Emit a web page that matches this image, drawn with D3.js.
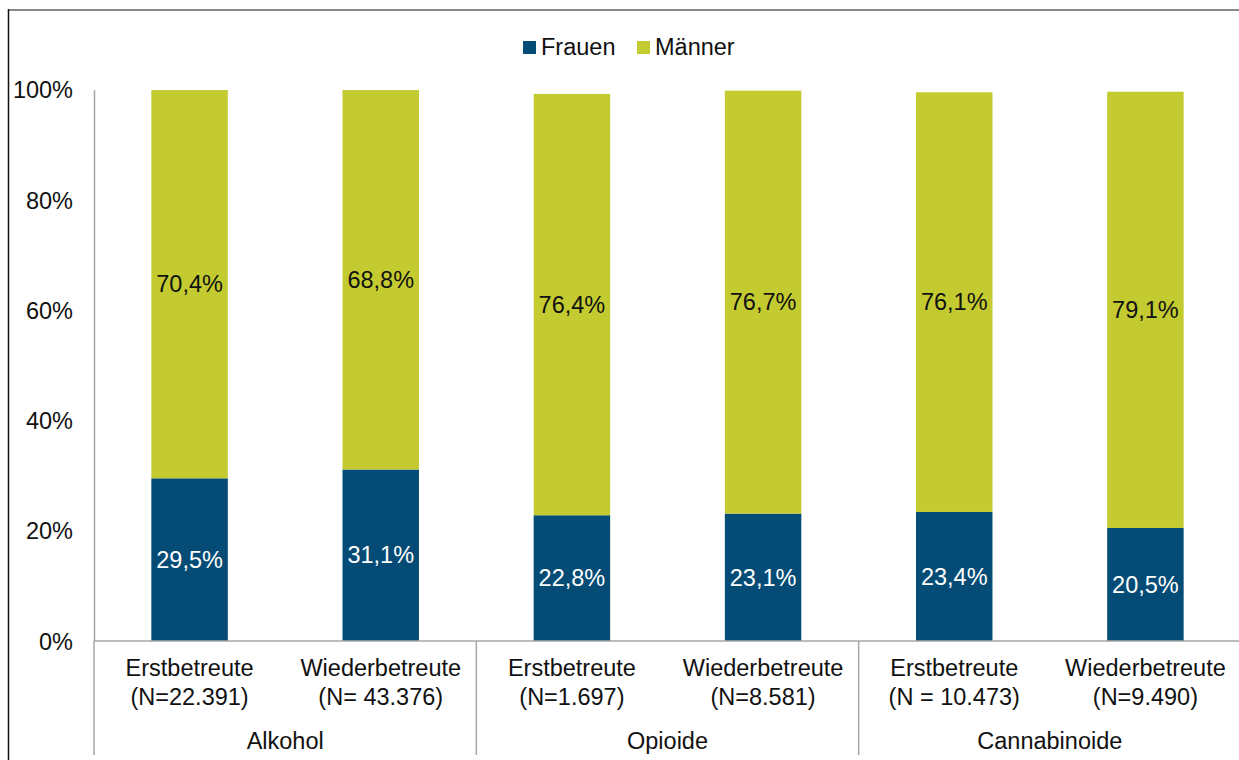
<!DOCTYPE html>
<html>
<head>
<meta charset="utf-8">
<script src="https://cdn.jsdelivr.net/npm/d3@7"></script>
<style>
  body { margin: 0; background: #fff; }
  text { font-family: "Liberation Sans", Arial, sans-serif; }
</style>
</head>
<body>
<div id="chart"></div>
<script>
// data
const groups = ['Alkohol', 'Opioide', 'Cannabinoide'];
const types = ['Erstbetreute', 'Wiederbetreute', 'Erstbetreute', 'Wiederbetreute', 'Erstbetreute', 'Wiederbetreute'];
const counts = ['(N=22.391)', '(N= 43.376)', '(N=1.697)', '(N=8.581)', '(N = 10.473)', '(N=9.490)'];
const frauen = [29.5, 31.1, 22.8, 23.1, 23.4, 20.5];
const maenner = [70.4, 68.8, 76.4, 76.7, 76.1, 79.1];
const yTicks = [0, 20, 40, 60, 80, 100];
const seriesNames = ['Frauen', 'Männer'];

const colors = { Frauen: '#044c75', 'Männer': '#c4cb30' };
const fontSize = '23.5px';

const width = 1239;
const height = 760;
const margin = { top: 89.5, right: -2, bottom: 119, left: 94 };
const innerWidth = width - margin.left - margin.right;
const innerHeight = height - margin.top - margin.bottom;

const svg = d3.select('#chart')
    .append('svg')
    .attr('width', width)
    .attr('height', height);

// outer frame (only top and left are in view)
svg.append('line')
    .attr('x1', 8).attr('x2', width).attr('y1', 10).attr('y2', 10)
    .attr('stroke', '#888').attr('stroke-width', 2);
svg.append('line')
    .attr('x1', 8.5).attr('x2', 8.5).attr('y1', 9).attr('y2', height)
    .attr('stroke', '#111').attr('stroke-width', 1.5);

const g = svg.append('g')
    .attr('transform', `translate(${margin.left},${margin.top})`);

const idx = d3.range(frauen.length);
const xScale = d3.scaleBand()
    .domain(idx)
    .range([0, innerWidth])
    .paddingInner(0.6)
    .paddingOuter(0.3);
const yScale = d3.scaleLinear()
    .domain([0, 100])
    .range([innerHeight, 0]);

const fmt = v => d3.format('.1f')(v).replace('.', ',') + '%';

// y axis
const yAxis = g.append('g')
    .call(d3.axisLeft(yScale).tickValues(yTicks).tickSize(0).tickFormat(d => d + '%'));
yAxis.select('.domain').attr('stroke', '#a6a6a6').attr('stroke-width', 1.5);
yAxis.selectAll('.tick text')
    .attr('x', -21)
    .attr('dy', '0.35em')
    .style('font-size', fontSize)
    .attr('fill', '#111');

// bars
const stacks = idx.map(i => [
    { key: 'Frauen', y0: 0, y1: frauen[i], i: i },
    { key: 'Männer', y0: frauen[i], y1: frauen[i] + maenner[i], i: i }
]).flat();

g.selectAll('.bar')
    .data(stacks)
    .join('rect')
    .attr('class', 'bar')
    .attr('x', d => xScale(d.i))
    .attr('width', xScale.bandwidth())
    .attr('y', d => yScale(d.y1))
    .attr('height', d => yScale(d.y0) - yScale(d.y1))
    .attr('fill', d => colors[d.key]);

g.selectAll('.val')
    .data(stacks)
    .join('text')
    .attr('class', 'val')
    .attr('x', d => xScale(d.i) + xScale.bandwidth() / 2)
    .attr('y', d => yScale((d.y0 + d.y1) / 2))
    .attr('dy', '0.35em')
    .attr('text-anchor', 'middle')
    .style('font-size', fontSize)
    .attr('fill', d => d.key === 'Frauen' ? '#fff' : '#111')
    .text(d => fmt(d.y1 - d.y0));

// x baseline and group separators
g.append('line')
    .attr('x1', 0).attr('x2', innerWidth + 10)
    .attr('y1', innerHeight).attr('y2', innerHeight)
    .attr('stroke', '#a6a6a6').attr('stroke-width', 1.5);

const groupScale = d3.scaleBand()
    .domain(groups)
    .range([0, innerWidth]);

g.selectAll('.sep')
    .data(groups)
    .join('line')
    .attr('class', 'sep')
    .attr('x1', d => groupScale(d))
    .attr('x2', d => groupScale(d))
    .attr('y1', innerHeight)
    .attr('y2', innerHeight + 114)
    .attr('stroke', '#a6a6a6').attr('stroke-width', 1.5);

const catLabels = g.selectAll('.cat')
    .data(idx)
    .join('text')
    .attr('class', 'cat')
    .attr('text-anchor', 'middle')
    .style('font-size', fontSize)
    .attr('fill', '#111')
    .attr('x', i => xScale(i) + xScale.bandwidth() / 2)
    .attr('y', innerHeight + 35);
catLabels.append('tspan').text(i => types[i]);
catLabels.append('tspan')
    .attr('x', i => xScale(i) + xScale.bandwidth() / 2)
    .attr('dy', 29)
    .text(i => counts[i]);

g.selectAll('.grp')
    .data(groups)
    .join('text')
    .attr('class', 'grp')
    .attr('text-anchor', 'middle')
    .style('font-size', fontSize)
    .attr('fill', '#111')
    .attr('x', d => groupScale(d) + groupScale.bandwidth() / 2)
    .attr('y', innerHeight + 108)
    .text(d => d);

// legend
const legendX = [523, 637];
const legend = svg.selectAll('.legend')
    .data(seriesNames)
    .join('g')
    .attr('class', 'legend')
    .attr('transform', (d, i) => `translate(${legendX[i]},41)`);
legend.append('rect')
    .attr('width', 13).attr('height', 13)
    .attr('fill', d => colors[d]);
legend.append('text')
    .attr('x', 18)
    .attr('y', 14)
    .style('font-size', fontSize)
    .attr('fill', '#111')
    .text(d => d);
</script>
</body>
</html>
